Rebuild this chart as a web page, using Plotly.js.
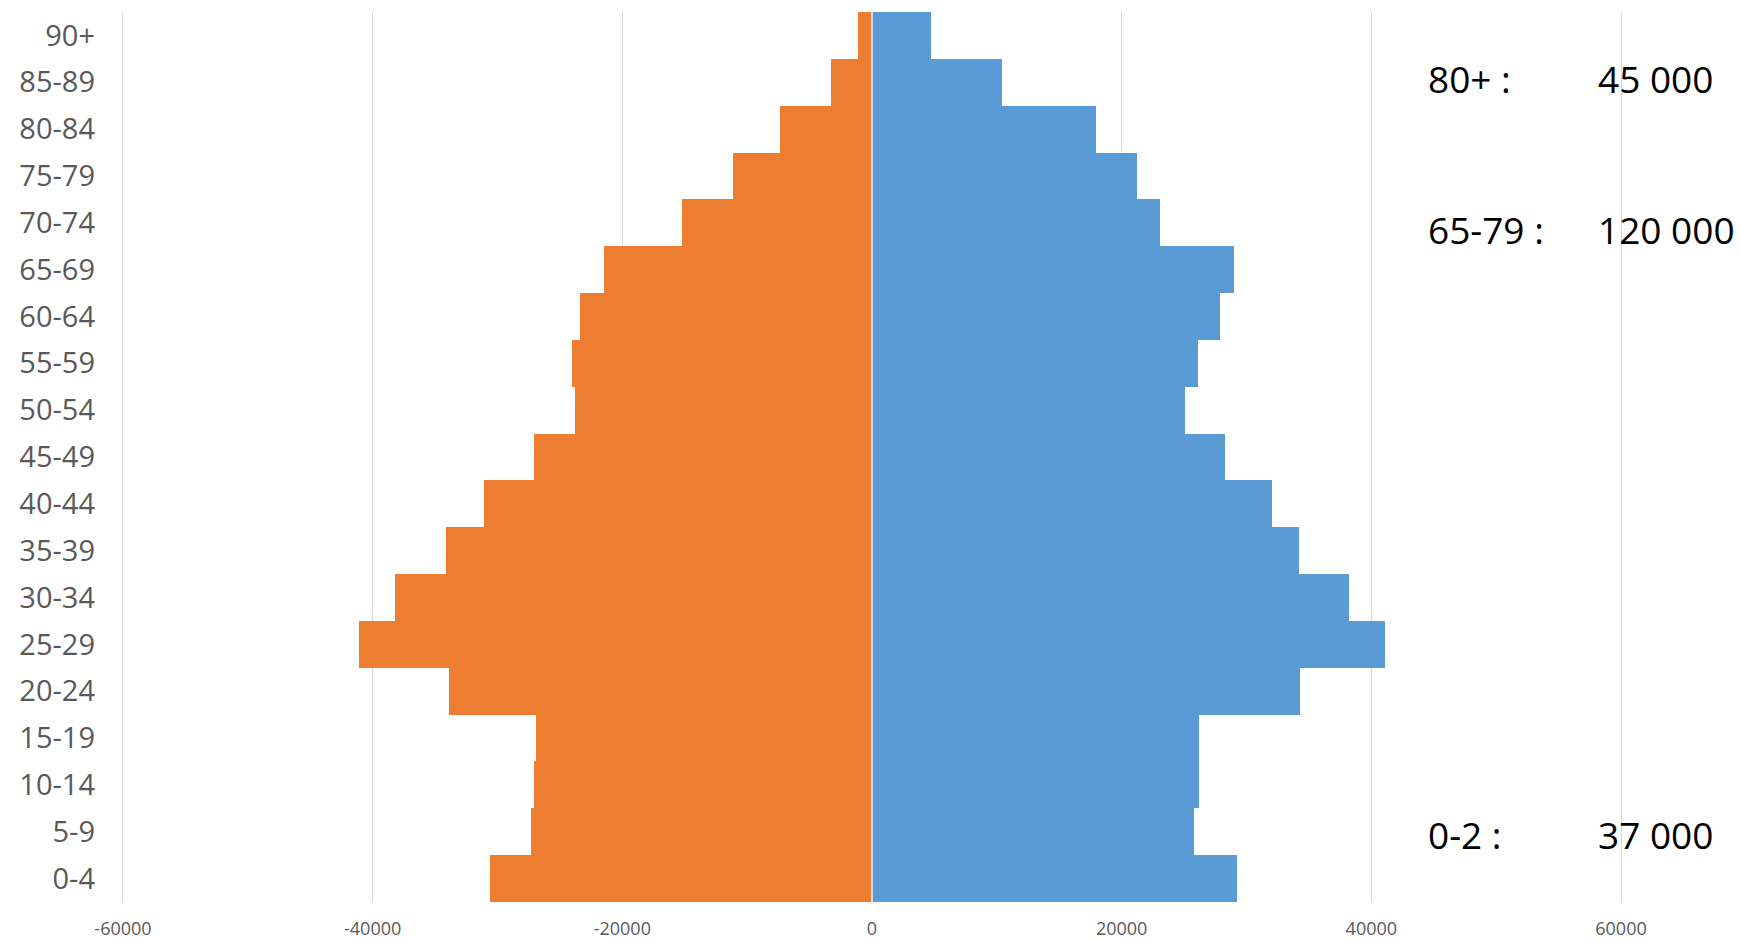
<!DOCTYPE html>
<html>
<head>
<meta charset="utf-8">
<script src="https://cdn.plot.ly/plotly-3.0.1.min.js"></script>
<style>
  html, body { margin: 0; padding: 0; background: #ffffff; }
  #chart { width: 1740px; height: 941px; }
</style>
</head>
<body>
<div id="chart"></div>
<script>
// Age groups (bottom to top)
const ageGroups = ["0-4","5-9","10-14","15-19","20-24","25-29","30-34","35-39","40-44","45-49",
                   "50-54","55-59","60-64","65-69","70-74","75-79","80-84","85-89","90+"];
// Orange series (left side, negative)
const orangeValues = [-30600,-27300,-27100,-26950,-33900,-41100,-38200,-34150,-31050,-27100,
                      -23800,-24000,-23400,-21500,-15250,-11100,-7400,-3300,-1150];
// Blue series (right side, positive)
const blueValues = [29250,25800,26200,26200,34300,41100,38200,34200,32050,28250,
                    25100,26100,27900,29000,23100,21250,17950,10450,4700];
// Annotation texts
const noteLabels = ["80+ :", "65-79 :", "0-2 :"];
const noteValues = ["45 000", "120 000", "37 000"];
const tickVals = [-60000,-40000,-20000,0,20000,40000,60000];

const traces = [
  {
    type: "bar", orientation: "h", name: "orange",
    y: ageGroups, x: orangeValues,
    marker: { color: "#ED7D31", line: { width: 0 } },
    hoverinfo: "x+y"
  },
  {
    type: "bar", orientation: "h", name: "blue",
    y: ageGroups, x: blueValues,
    marker: { color: "#5B9BD5", line: { width: 0 } },
    hoverinfo: "x+y"
  }
];

const noteY = [17.07, 13.85, 0.94];
const annotations = [];
for (let i = 0; i < noteLabels.length; i++) {
  annotations.push({
    xref: "x", yref: "y", x: 44400, y: noteY[i], xanchor: "left", yanchor: "middle",
    text: noteLabels[i], showarrow: false,
    font: { family: "Open Sans, Liberation Sans, sans-serif", size: 37, color: "#000000" }
  });
  annotations.push({
    xref: "x", yref: "y", x: 58000, y: noteY[i], xanchor: "left", yanchor: "middle",
    text: noteValues[i], showarrow: false,
    font: { family: "Open Sans, Liberation Sans, sans-serif", size: 37, color: "#000000" }
  });
}

const layout = {
  width: 1740, height: 941,
  paper_bgcolor: "#ffffff", plot_bgcolor: "#ffffff",
  margin: { l: 118, r: 114, t: 12, b: 39, pad: 0 },
  barmode: "relative", bargap: 0,
  showlegend: false,
  font: { family: "Open Sans, Liberation Sans, sans-serif", color: "#595959" },
  xaxis: {
    range: [-60400, 60400],
    tickvals: tickVals, ticktext: tickVals.map(String),
    showgrid: true, gridcolor: "#d9d9d9", gridwidth: 1,
    zeroline: false, showline: false, ticks: "",
    ticklabelstandoff: 14,
    tickfont: { size: 18, color: "#595959" }
  },
  yaxis: {
    type: "category",
    categoryorder: "array", categoryarray: ageGroups,
    showgrid: false, zeroline: false, showline: false, ticks: "",
    ticklabelstandoff: 22,
    tickfont: { size: 29, color: "#595959" }
  },
  shapes: [{
    type: "line", xref: "x", yref: "paper", x0: 0, x1: 0, y0: 0, y1: 1,
    line: { color: "rgba(255,255,255,0.9)", width: 1.5 }, layer: "above"
  }],
  annotations: annotations
};

Plotly.newPlot("chart", traces, layout, { displayModeBar: false, staticPlot: true });
</script>
</body>
</html>
